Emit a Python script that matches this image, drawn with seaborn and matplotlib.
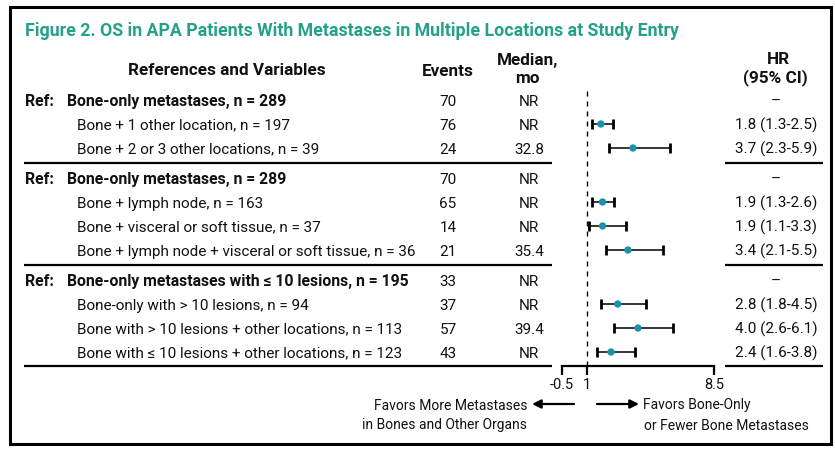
import numpy as np
import pandas as pd
import matplotlib
matplotlib.use("Agg")
import matplotlib.pyplot as plt
import seaborn as sns
from matplotlib.transforms import blended_transform_factory
from matplotlib.patches import Rectangle, FancyArrowPatch
from matplotlib.lines import Line2D

# ---------------- data ----------------
title = "Figure 2. OS in APA Patients With Metastases in Multiple Locations at Study Entry"
groups = [0, 0, 0, 1, 1, 1, 1, 2, 2, 2, 2]
is_ref = [True, False, False, True, False, False, False, True, False, False, False]
labels = [
    "Bone-only metastases, n = 289",
    "Bone + 1 other location, n = 197",
    "Bone + 2 or 3 other locations, n = 39",
    "Bone-only metastases, n = 289",
    "Bone + lymph node, n = 163",
    "Bone + visceral or soft tissue, n = 37",
    "Bone + lymph node + visceral or soft tissue, n = 36",
    "Bone-only metastases with \u2264 10 lesions, n = 195",
    "Bone-only with > 10 lesions, n = 94",
    "Bone with > 10 lesions + other locations, n = 113",
    "Bone with \u2264 10 lesions + other locations, n = 123",
]
events = ["70", "76", "24", "70", "65", "14", "21", "33", "37", "57", "43"]
medians = ["NR", "NR", "32.8", "NR", "NR", "NR", "35.4", "NR", "NR", "39.4", "NR"]
hr = [np.nan, 1.8, 3.7, np.nan, 1.9, 1.9, 3.4, np.nan, 2.8, 4.0, 2.4]
ci_lo = [np.nan, 1.3, 2.3, np.nan, 1.3, 1.1, 2.1, np.nan, 1.8, 2.6, 1.6]
ci_hi = [np.nan, 2.5, 5.9, np.nan, 2.6, 3.3, 5.5, np.nan, 4.5, 6.1, 3.8]
hr_text = ["\u2013", "1.8 (1.3-2.5)", "3.7 (2.3-5.9)", "\u2013", "1.9 (1.3-2.6)",
           "1.9 (1.1-3.3)", "3.4 (2.1-5.5)", "\u2013", "2.8 (1.8-4.5)",
           "4.0 (2.6-6.1)", "2.4 (1.6-3.8)"]
x_ticks = [-0.5, 1, 8.5]
x_ticklabels = ["-0.5", "1", "8.5"]
favor_left = "Favors More Metastases\nin Bones and Other Organs"
favor_right = "Favors Bone-Only\nor Fewer Bone Metastases"

# ---------------- style ----------------
sns.set_theme(style="white")
FONT = ["Roboto", "DejaVu Sans"]
plt.rcParams["font.family"] = FONT
TXT = "#111111"
TEAL_T = "#25a08b"
TEAL_D = "#1b93a6"

W, H = 835, 450
fig = plt.figure(figsize=(W / 100, H / 100), dpi=100)
fig.patch.set_facecolor("white")

GAP = 0.25
df = pd.DataFrame({"group": groups, "label": labels, "ref": is_ref, "events": events,
                   "median": medians, "hr": hr, "lo": ci_lo, "hi": ci_hi, "hrtxt": hr_text})
df["y"] = np.arange(len(df)) + GAP * df["group"]

# forest axes (pixel frame: x 562..714, y 88..366)
ax = fig.add_axes([562 / W, 1 - 366 / H, (714 - 562) / W, (366 - 88) / H])
pts = df.dropna(subset=["hr"])
ax.errorbar(pts["hr"], pts["y"], xerr=[pts["hr"] - pts["lo"], pts["hi"] - pts["hr"]],
            fmt="none", ecolor="black", elinewidth=1.1, capsize=3.6, capthick=2.0, zorder=2)
sns.scatterplot(data=pts, x="hr", y="y", ax=ax, color=TEAL_D, s=28, edgecolor="none",
                zorder=3, legend=False)
ax.axvline(1, color="black", lw=1.0, ls=(0, (3.6, 3.6)), zorder=1)
ax.set_xlim(-0.5, 8.5)
ax.set_ylim(df["y"].iloc[-1] + 0.583, -0.5)
ax.set_xlabel("")
ax.set_ylabel("")
ax.set_yticks([])
ax.set_xticks(x_ticks)
ax.set_xticklabels(x_ticklabels)
for s in ["top", "left", "right"]:
    ax.spines[s].set_visible(False)
ax.spines["bottom"].set_linewidth(1.6)
ax.spines["bottom"].set_color("black")
ax.tick_params(axis="x", direction="out", length=6.5, width=1.6, colors="black",
               labelsize=10.5, pad=2, labelcolor=TXT, bottom=True)
ax.patch.set_alpha(0)

trans = blended_transform_factory(fig.transFigure, ax.transData)


def px(x):
    return x / W


def py(y):
    return 1 - y / H


ROW_FS = 11
for _, r in df.iterrows():
    if r["ref"]:
        fig.text(px(25), r["y"], "Ref:", transform=trans, fontsize=ROW_FS + 0.3,
                 fontweight="bold", color=TXT, va="center_baseline", ha="left")
        fig.text(px(67), r["y"], r["label"], transform=trans, fontsize=ROW_FS + 0.3,
                 fontweight="bold", color=TXT, va="center_baseline", ha="left")
    else:
        fig.text(px(77), r["y"], r["label"], transform=trans, fontsize=ROW_FS,
                 color=TXT, va="center_baseline", ha="left")
    fig.text(px(448), r["y"], r["events"], transform=trans, fontsize=ROW_FS, color=TXT,
             va="center_baseline", ha="center")
    fig.text(px(529), r["y"], r["median"], transform=trans, fontsize=ROW_FS, color=TXT,
             va="center_baseline", ha="center")
    fig.text(px(776), r["y"], r["hrtxt"], transform=trans, fontsize=ROW_FS, color=TXT,
             va="center_baseline", ha="center")

# separators between groups and at the bottom
ys = list(df["y"])
seps = []
for i in range(1, len(df)):
    if groups[i] != groups[i - 1]:
        seps.append((ys[i] + ys[i - 1]) / 2)
seps.append(ax.get_ylim()[0])
for s in seps:
    for x0, x1 in [(24, 552), (725, 823)]:
        fig.add_artist(Line2D([px(x0), px(x1)], [s, s], transform=trans, color="black",
                              lw=1.6, solid_capstyle="butt"))

# title and headers
fig.text(px(25), py(29), title, fontsize=12.8, fontweight="bold", color=TEAL_T,
         va="center_baseline", ha="left")
HFS = 12.3
fig.text(px(227), py(69), "References and Variables", fontsize=HFS, fontweight="bold",
         color=TXT, va="center_baseline", ha="center")
fig.text(px(448), py(70), "Events", fontsize=HFS, fontweight="bold", color=TXT,
         va="center_baseline", ha="center")
fig.text(px(528), py(59), "Median,", fontsize=HFS, fontweight="bold", color=TXT,
         va="center_baseline", ha="center")
fig.text(px(527), py(77), "mo", fontsize=HFS, fontweight="bold", color=TXT,
         va="center_baseline", ha="center")
fig.text(px(778), py(58), "HR", fontsize=HFS, fontweight="bold", color=TXT,
         va="center_baseline", ha="center")
fig.text(px(775), py(76), "(95% CI)", fontsize=HFS, fontweight="bold", color=TXT,
         va="center_baseline", ha="center")

# favour labels and arrows
FFS = 10
lines_l = favor_left.split("\n")
lines_r = favor_right.split("\n")
fig.text(px(528), py(404), lines_l[0], fontsize=FFS, color=TXT, va="center_baseline", ha="right")
fig.text(px(527), py(424), lines_l[1], fontsize=FFS, color=TXT, va="center_baseline", ha="right")
fig.text(px(643), py(404), lines_r[0], fontsize=FFS, color=TXT, va="center_baseline", ha="left")
fig.text(px(644), py(424), lines_r[1], fontsize=FFS, color=TXT, va="center_baseline", ha="left")
for a, b in [((574, 404), (532, 404)), ((597, 404), (639, 404))]:
    fig.add_artist(FancyArrowPatch((px(a[0]), py(a[1])), (px(b[0]), py(b[1])),
                                   transform=fig.transFigure, arrowstyle="-|>",
                                   mutation_scale=13, lw=1.6, color="black",
                                   shrinkA=0, shrinkB=0))

# outer frame
fig.add_artist(Rectangle((px(9.5), py(444)), px(831 - 9.5), (444 - 7) / H,
                         transform=fig.transFigure, fill=False, lw=2.2, ec="black"))

fig.savefig("out.png", dpi=100)
